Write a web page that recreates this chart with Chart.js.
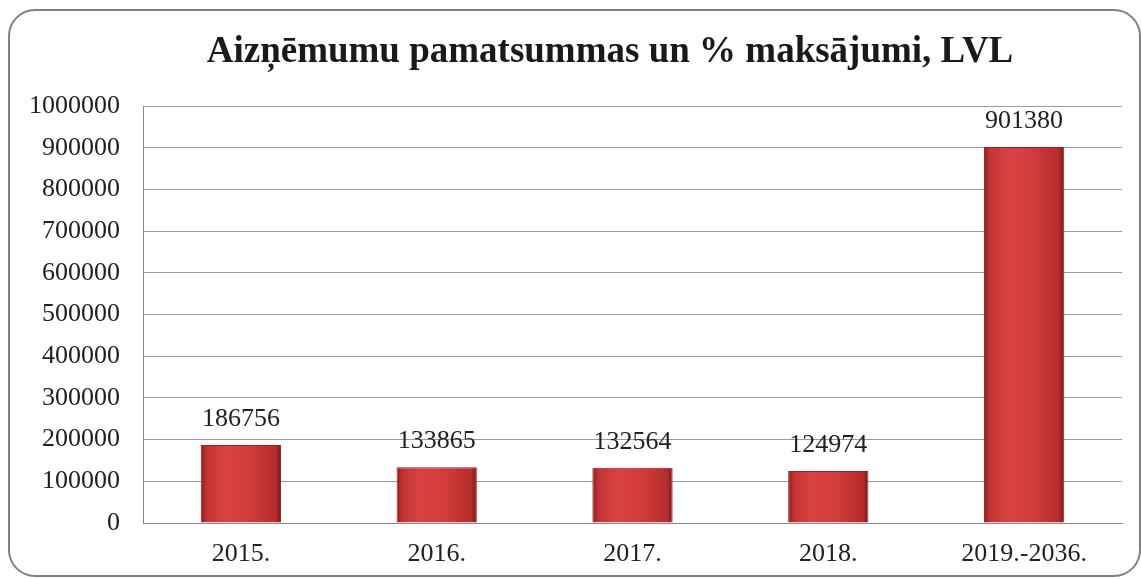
<!DOCTYPE html>
<html>
<head>
<meta charset="utf-8">
<script src="https://cdn.jsdelivr.net/npm/chart.js@4"></script>
<style>
html,body{margin:0;padding:0;background:#fff;}
#wrap{width:1141px;height:579px;position:relative;}
</style>
</head>
<body>
<div id="wrap"><canvas id="c" width="1141" height="579"></canvas></div>
<script>
const titleText = 'Aizņēmumu pamatsummas un % maksājumi, LVL';
const categories = ['2015.', '2016.', '2017.', '2018.', '2019.-2036.'];
const values = [186756, 133865, 132564, 124974, 901380];
const yTicks = [0, 100000, 200000, 300000, 400000, 500000, 600000, 700000, 800000, 900000, 1000000];

const serif = '"Liberation Serif", "Times New Roman", serif';

const framePlugin = {
  id: 'frame',
  beforeDraw(chart) {
    const ctx = chart.ctx;
    ctx.save();
    ctx.fillStyle = '#ffffff';
    ctx.fillRect(0, 0, chart.width, chart.height);
    const x = 9, y = 10, w = 1131, h = 566, r = 26;
    ctx.beginPath();
    ctx.moveTo(x + r, y);
    ctx.lineTo(x + w - r, y);
    ctx.arcTo(x + w, y, x + w, y + r, r);
    ctx.lineTo(x + w, y + h - r);
    ctx.arcTo(x + w, y + h, x + w - r, y + h, r);
    ctx.lineTo(x + r, y + h);
    ctx.arcTo(x, y + h, x, y + h - r, r);
    ctx.lineTo(x, y + r);
    ctx.arcTo(x, y, x + r, y, r);
    ctx.closePath();
    ctx.lineWidth = 2;
    ctx.strokeStyle = '#808080';
    ctx.stroke();
    // title
    ctx.font = 'bold 37px ' + serif;
    ctx.fillStyle = '#1a1a1a';
    ctx.textAlign = 'center';
    ctx.textBaseline = 'alphabetic';
    ctx.fillText(titleText, 610, 62);
    ctx.restore();
  }
};

const valueLabels = {
  id: 'valueLabels',
  afterDatasetsDraw(chart) {
    const ctx = chart.ctx;
    const meta = chart.getDatasetMeta(0);
    ctx.save();
    ctx.font = '26px ' + serif;
    ctx.fillStyle = '#222222';
    ctx.textAlign = 'center';
    ctx.textBaseline = 'middle';
    meta.data.forEach((bar, i) => {
      ctx.fillText(String(values[i]), bar.x, bar.y - 26);
    });
    ctx.restore();
  }
};

function barFill(context) {
  const chart = context.chart;
  const xs = chart.scales && chart.scales.x;
  if (!xs || !chart.chartArea || !isFinite(xs.getPixelForValue(context.dataIndex))) return '#d23a3a';
  const cx = xs.getPixelForValue(context.dataIndex);
  const half = (chart.chartArea.right - chart.chartArea.left) / categories.length * 0.41 / 2;
  const g = chart.ctx.createLinearGradient(cx - half, 0, cx + half, 0);
  g.addColorStop(0, '#8e1a1a');
  g.addColorStop(0.07, '#c23434');
  g.addColorStop(0.3, '#d84242');
  g.addColorStop(0.6, '#d23c3c');
  g.addColorStop(0.93, '#b42c2c');
  g.addColorStop(1, '#7e1616');
  return g;
}

new Chart(document.getElementById('c'), {
  type: 'bar',
  data: {
    labels: categories,
    datasets: [{
      data: values,
      backgroundColor: barFill,
      borderColor: '#9c2222',
      borderWidth: 1,
      barPercentage: 0.41,
      categoryPercentage: 1.0
    }]
  },
  options: {
    responsive: false,
    animation: false,
    events: [],
    layout: { padding: { left: 0, right: 19, top: 106, bottom: 0 } },
    plugins: {
      legend: { display: false },
      tooltip: { enabled: false },
      title: { display: false }
    },
    scales: {
      x: {
        grid: { display: false, drawTicks: false },
        border: { display: true, color: '#8a8a8a', width: 1 },
        ticks: { color: '#222222', font: { family: serif, size: 26 }, padding: 16, maxRotation: 0 },
        afterFit(axis) { axis.height = 56; }
      },
      y: {
        min: 0,
        max: 1000000,
        afterBuildTicks(axis) { axis.ticks = yTicks.map(v => ({ value: v })); },
        grid: { color: '#9a9a9a', lineWidth: 1, drawTicks: false },
        border: { display: true, color: '#8a8a8a', width: 1 },
        ticks: { color: '#222222', font: { family: serif, size: 26 }, padding: 23, callback: v => String(v) },
        afterFit(axis) { axis.width = 143; }
      }
    }
  },
  plugins: [framePlugin, valueLabels]
});
</script>
</body>
</html>
